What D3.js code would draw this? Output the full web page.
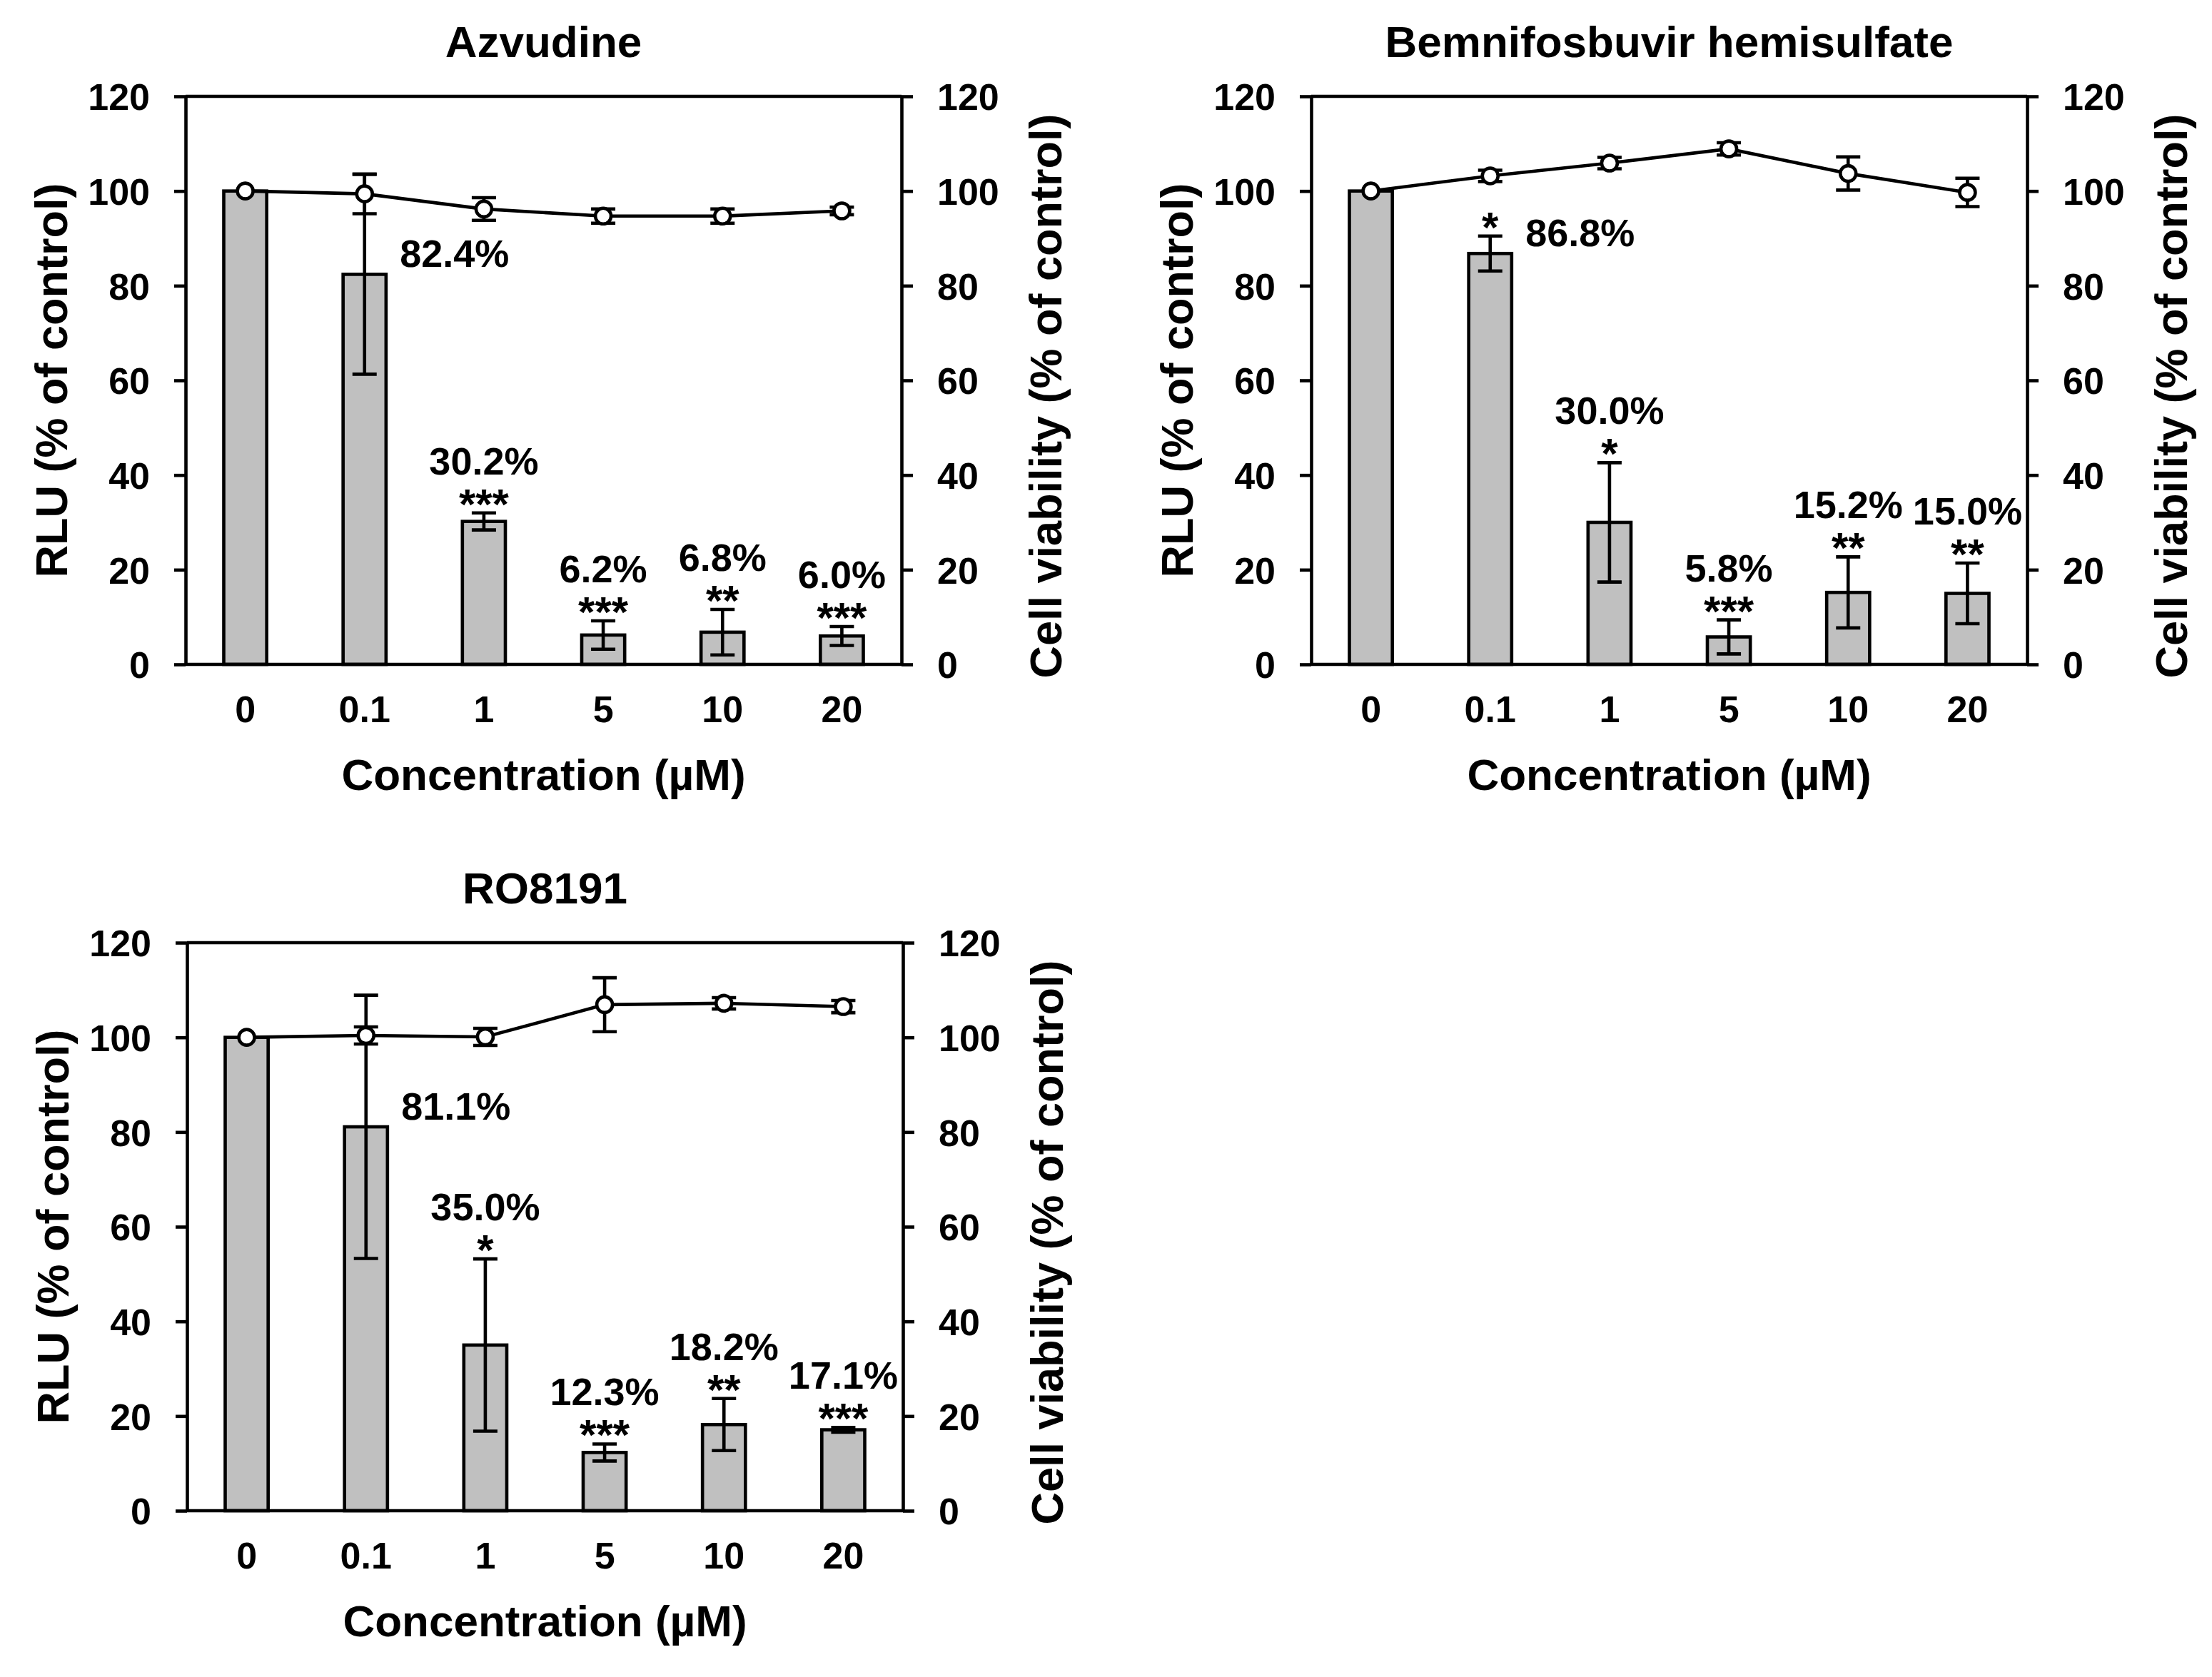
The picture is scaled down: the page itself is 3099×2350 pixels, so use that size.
<!DOCTYPE html>
<html>
<head>
<meta charset="utf-8">
<script src="https://cdn.jsdelivr.net/npm/d3@7"></script>
<style>
  html, body { margin: 0; padding: 0; background: #ffffff; }
  svg { display: block; }
  text { font-family: "Liberation Sans", Arial, Helvetica, sans-serif; font-weight: bold; fill: #000; }
</style>
</head>
<body>
<svg id="chart" width="3099" height="2350"></svg>
<script>
// ---------------- data ----------------
const concentrations = ["0", "0.1", "1", "5", "10", "20"];
const yTicks = [0, 20, 40, 60, 80, 100, 120];
const panelTitles = ["Azvudine", "Bemnifosbuvir hemisulfate", "RO8191"];
const xAxisTitle = "Concentration (\u00B5M)";
const leftAxisTitle = "RLU (% of control)";
const rightAxisTitle = "Cell viability (% of control)";

// Azvudine
const rluAzvudine      = [100, 82.4, 30.2, 6.2, 6.8, 6.0];
const rluErrAzvudine   = [0, 21.1, 1.8, 3.0, 4.8, 2.0];
const viabAzvudine     = [100, 99.4, 96.2, 94.7, 94.7, 95.8];
const viabErrAzvudine  = [0, 4.2, 2.4, 1.5, 1.5, 0.8];
const sigAzvudine      = ["", "", "***", "***", "**", "***"];
const pctAzvudine      = ["", "82.4%", "30.2%", "6.2%", "6.8%", "6.0%"];

// Bemnifosbuvir hemisulfate
const rluBemnifosbuvir     = [100, 86.8, 30.0, 5.8, 15.2, 15.0];
const rluErrBemnifosbuvir  = [0, 3.7, 12.6, 3.6, 7.5, 6.4];
const viabBemnifosbuvir    = [100, 103.2, 105.9, 108.9, 103.7, 99.7];
const viabErrBemnifosbuvir = [0, 1.2, 1.2, 1.3, 3.5, 3.0];
const sigBemnifosbuvir     = ["", "*", "*", "***", "**", "**"];
const pctBemnifosbuvir     = ["", "86.8%", "30.0%", "5.8%", "15.2%", "15.0%"];

// RO8191
const rluRO8191      = [100, 81.1, 35.0, 12.3, 18.2, 17.1];
const rluErrRO8191   = [0, 27.8, 18.2, 1.8, 5.5, 0.5];
const viabRO8191     = [100, 100.4, 100.1, 106.9, 107.2, 106.5];
const viabErrRO8191  = [0, 1.8, 1.8, 5.7, 1.2, 1.3];
const sigRO8191      = ["", "", "*", "***", "**", "***"];
const pctRO8191      = ["", "81.1%", "35.0%", "12.3%", "18.2%", "17.1%"];

// index whose percentage label sits beside the bar instead of above it
const sideLabelIndex = [1, 1, 1];

const panels = [
  { title: panelTitles[0], rlu: rluAzvudine, rluErr: rluErrAzvudine, viab: viabAzvudine, viabErr: viabErrAzvudine, sig: sigAzvudine, pct: pctAzvudine, side: sideLabelIndex[0], left: 260, top: 135 },
  { title: panelTitles[1], rlu: rluBemnifosbuvir, rluErr: rluErrBemnifosbuvir, viab: viabBemnifosbuvir, viabErr: viabErrBemnifosbuvir, sig: sigBemnifosbuvir, pct: pctBemnifosbuvir, side: sideLabelIndex[1], left: 1837, top: 135 },
  { title: panelTitles[2], rlu: rluRO8191, rluErr: rluErrRO8191, viab: viabRO8191, viabErr: viabErrRO8191, sig: sigRO8191, pct: pctRO8191, side: sideLabelIndex[2], left: 262, top: 1321 }
];

// ---------------- layout ----------------
const W = 1003, H = 796;
const SW = 4.6;         // stroke width
const tickLen = 16;
const capHalf = 17;
const svg = d3.select("#chart");

panels.forEach(p => {
  const g = svg.append("g").attr("transform", `translate(${p.left},${p.top})`);
  const x = d3.scaleBand().domain(concentrations).range([0, W]).paddingInner(0.64).paddingOuter(0.32);
  const xc = d => x(d) + x.bandwidth() / 2;
  const y = d3.scaleLinear().domain([0, 120]).range([H, 0]);

  const data = concentrations.map((c, i) => ({
    c, i, rlu: p.rlu[i], rluErr: p.rluErr[i], viab: p.viab[i], viabErr: p.viabErr[i], sig: p.sig[i], pct: p.pct[i]
  }));

  // bars
  g.append("g").selectAll("rect").data(data).join("rect")
    .attr("x", d => x(d.c))
    .attr("width", x.bandwidth())
    .attr("y", d => y(d.rlu))
    .attr("height", d => y(0) - y(d.rlu))
    .attr("fill", "#c0c0c0")
    .attr("stroke", "#000")
    .attr("stroke-width", SW);

  // bar error bars
  const be = g.append("g").attr("stroke", "#000").attr("stroke-width", SW);
  data.filter(d => d.rluErr > 0).forEach(d => {
    const cx = xc(d.c);
    be.append("line").attr("x1", cx).attr("x2", cx).attr("y1", y(d.rlu - d.rluErr)).attr("y2", y(d.rlu + d.rluErr));
    be.append("line").attr("x1", cx - capHalf).attr("x2", cx + capHalf).attr("y1", y(d.rlu - d.rluErr)).attr("y2", y(d.rlu - d.rluErr));
    be.append("line").attr("x1", cx - capHalf).attr("x2", cx + capHalf).attr("y1", y(d.rlu + d.rluErr)).attr("y2", y(d.rlu + d.rluErr));
  });

  // axes frame: top line and bottom line
  g.append("line").attr("x1", 0).attr("x2", W).attr("y1", y(120)).attr("y2", y(120))
    .attr("stroke", "#000").attr("stroke-width", SW);
  g.append("line").attr("x1", 0).attr("x2", W).attr("y1", y(0)).attr("y2", y(0))
    .attr("stroke", "#000").attr("stroke-width", SW);

  // left axis
  const la = g.append("g").call(d3.axisLeft(y).tickValues(yTicks).tickSize(tickLen).tickSizeOuter(0).tickPadding(34));
  // right axis
  const ra = g.append("g").attr("transform", `translate(${W},0)`)
    .call(d3.axisRight(y).tickValues(yTicks).tickSize(tickLen).tickSizeOuter(0).tickPadding(34));
  [la, ra].forEach(a => {
    a.attr("font-family", null);
    a.select(".domain").attr("stroke", "#000").attr("stroke-width", SW);
    a.selectAll(".tick line").attr("stroke", "#000").attr("stroke-width", SW);
    a.selectAll(".tick text").attr("font-size", 52).attr("dy", "0.36em");
  });

  // bottom axis (labels only)
  const xa = g.append("g").attr("transform", `translate(0,${H})`)
    .call(d3.axisBottom(x).tickSize(0).tickPadding(44));
  xa.attr("font-family", null);
  xa.select(".domain").remove();
  xa.selectAll(".tick text").attr("font-size", 52);

  // viability line
  const line = d3.line().x(d => xc(d.c)).y(d => y(d.viab));
  g.append("path").datum(data).attr("d", line).attr("fill", "none").attr("stroke", "#000").attr("stroke-width", SW);

  // viability error bars
  const ve = g.append("g").attr("stroke", "#000").attr("stroke-width", SW);
  data.filter(d => d.viabErr > 0).forEach(d => {
    const cx = xc(d.c);
    ve.append("line").attr("x1", cx).attr("x2", cx).attr("y1", y(d.viab - d.viabErr)).attr("y2", y(d.viab + d.viabErr));
    ve.append("line").attr("x1", cx - capHalf).attr("x2", cx + capHalf).attr("y1", y(d.viab - d.viabErr)).attr("y2", y(d.viab - d.viabErr));
    ve.append("line").attr("x1", cx - capHalf).attr("x2", cx + capHalf).attr("y1", y(d.viab + d.viabErr)).attr("y2", y(d.viab + d.viabErr));
  });

  // viability points
  g.append("g").selectAll("circle").data(data).join("circle")
    .attr("cx", d => xc(d.c)).attr("cy", d => y(d.viab)).attr("r", 11)
    .attr("fill", "#fff").attr("stroke", "#000").attr("stroke-width", SW);

  // significance stars and percentage labels
  data.forEach(d => {
    const cx = xc(d.c);
    const errTop = y(d.rlu + d.rluErr);
    if (d.sig) {
      g.append("text").attr("x", cx).attr("y", errTop + 8).attr("text-anchor", "middle")
        .attr("font-size", 60).text(d.sig);
    }
    if (d.pct) {
      if (d.i === p.side) {
        g.append("text").attr("x", cx + 126).attr("y", y(d.rlu) - 10).attr("text-anchor", "middle")
          .attr("font-size", 54).text(d.pct);
      } else {
        g.append("text").attr("x", cx).attr("y", errTop - (d.sig ? 54 : 20)).attr("text-anchor", "middle")
          .attr("font-size", 54).text(d.pct);
      }
    }
  });

  // titles
  g.append("text").attr("x", W / 2).attr("y", -55).attr("text-anchor", "middle").attr("font-size", 62).text(p.title);
  g.append("text").attr("x", W / 2).attr("y", H + 176).attr("text-anchor", "middle").attr("font-size", 62).text(xAxisTitle);
  g.append("text").attr("transform", `translate(-166,${H / 2}) rotate(-90)`).attr("text-anchor", "middle")
    .attr("font-size", 63).text(leftAxisTitle);
  g.append("text").attr("transform", `translate(${W + 224},${H / 2 + 22}) rotate(-90)`).attr("text-anchor", "middle")
    .attr("font-size", 63).text(rightAxisTitle);
});
</script>
</body>
</html>
